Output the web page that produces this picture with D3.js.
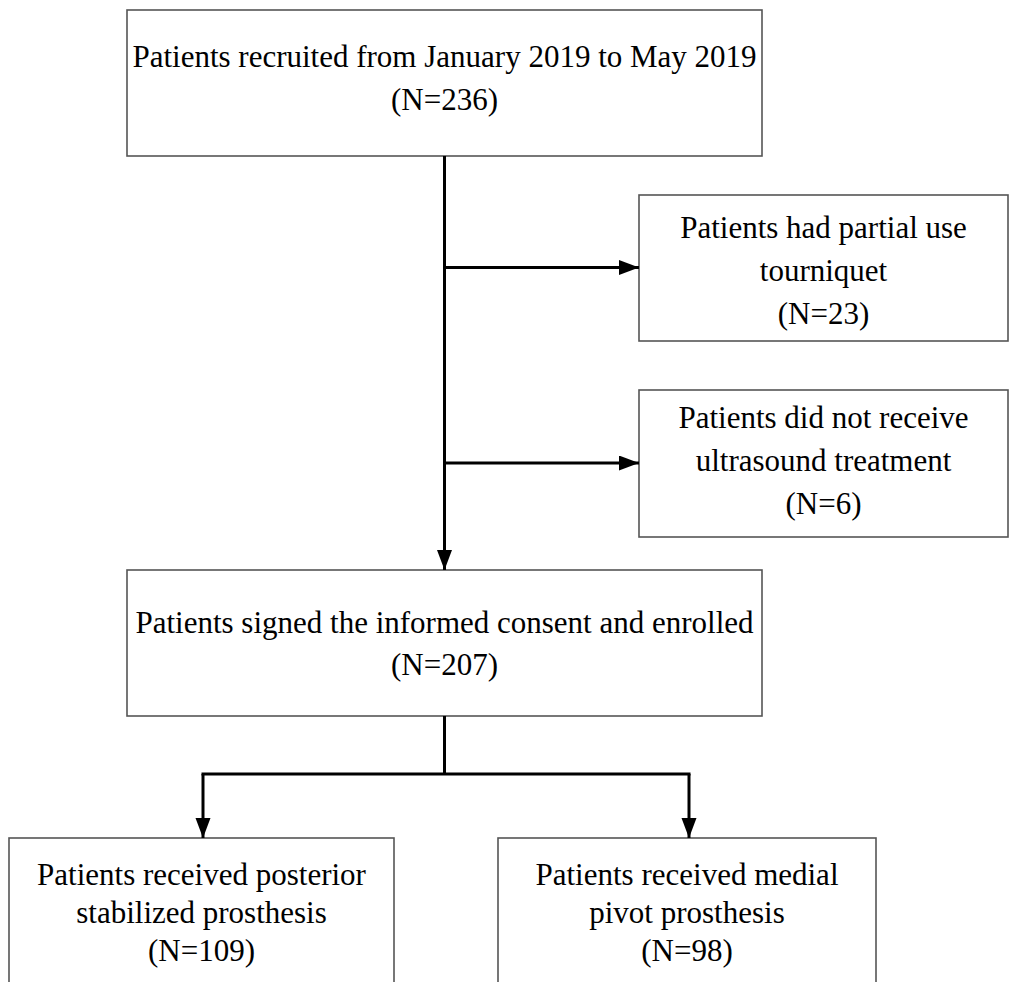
<!DOCTYPE html>
<html>
<head>
<meta charset="utf-8">
<script src="https://cdn.jsdelivr.net/npm/d3@7"></script>
<style>
  body { margin: 0; background: #fff; }
  svg { display: block; }
</style>
</head>
<body>
<svg id="flow" width="1013" height="982"></svg>
<script>
// stage texts and patient counts
var stageLabels = [
	["Patients recruited from January 2019 to May 2019"],
	["Patients had partial use", "tourniquet"],
	["Patients did not receive", "ultrasound treatment"],
	["Patients signed the informed consent and enrolled"],
	["Patients received posterior", "stabilized prosthesis"],
	["Patients received medial", "pivot prosthesis"]
];
var stageCounts = [236, 23, 6, 207, 109, 98];

// layout of the boxes (x0, y0, x1, y1, first baseline)
var layout = [
	{x0: 127, y0: 10,  x1: 762,  y1: 156, base: 67},
	{x0: 639, y0: 195, x1: 1008, y1: 341, base: 238},
	{x0: 639, y0: 390, x1: 1008, y1: 537, base: 428},
	{x0: 127, y0: 570, x1: 762,  y1: 716, base: 633},
	{x0: 9,   y0: 838, x1: 394,  y1: 1000, base: 885},
	{x0: 498, y0: 838, x1: 876,  y1: 1000, base: 885}
];
var lineGap = [43, 43, 43, 42, 38, 38];

var s = d3.select("#flow");

var boxes = stageLabels.map(function(lines, i) {
	var b = layout[i];
	return {
		lines: lines.concat(["(N=" + stageCounts[i] + ")"]),
		x0: b.x0, y0: b.y0, x1: b.x1, y1: b.y1,
		cx: (b.x0 + b.x1) / 2,
		base: b.base, gap: lineGap[i]
	};
});

//arrow head
s.append("defs").append("marker")
	.attr("id", "head")
	.attr("markerUnits", "userSpaceOnUse")
	.attr("markerWidth", 21)
	.attr("markerHeight", 16)
	.attr("refX", 20)
	.attr("refY", 7.5)
	.attr("orient", "auto")
	.append("path")
	.attr("d", "M0,0 L20,7.5 L0,15 Z")
	.attr("fill", "#000");

//BOXES
s.selectAll(".box").data(boxes).enter()
	.append("rect")
	.attr("class", "box")
	.attr("x", function(d) { return d.x0; })
	.attr("y", function(d) { return d.y0; })
	.attr("width", function(d) { return d.x1 - d.x0; })
	.attr("height", function(d) { return d.y1 - d.y0; })
	.attr("fill", "none")
	.attr("stroke", "#555")
	.attr("stroke-width", 1.6);

//TEXT
var labels = s.selectAll(".label").data(boxes).enter()
	.append("text")
	.attr("class", "label")
	.attr("text-anchor", "middle")
	.style("font-family", "'Liberation Serif', 'Times New Roman', Times, serif")
	.style("font-size", "31px")
	.attr("fill", "#000");

labels.selectAll("tspan").data(function(d) {
		return d.lines.map(function(t, j) { return {t: t, x: d.cx, y: d.base + j * d.gap}; });
	}).enter()
	.append("tspan")
	.attr("x", function(d) { return d.x; })
	.attr("y", function(d) { return d.y; })
	.text(function(d) { return d.t; });

//CONNECTORS
var first = boxes[0], mid = boxes[3];
var spineX = first.cx;
var branchY = 774;

function rowMid(b) { return (b.y0 + b.y1) / 2 - 0.5; }

var arrows = [
	// main spine down to the enrolled box
	[[spineX, first.y1], [spineX, mid.y0]],
	// exclusions
	[[spineX, rowMid(boxes[1])], [boxes[1].x0, rowMid(boxes[1])]],
	[[spineX, rowMid(boxes[2])], [boxes[2].x0, rowMid(boxes[2])]],
	// split into two groups
	[[boxes[4].cx + 1.5, branchY], [boxes[4].cx + 1.5, boxes[4].y0]],
	[[boxes[5].cx + 2, branchY], [boxes[5].cx + 2, boxes[5].y0]]
];

var line = d3.line();

s.selectAll(".arrow").data(arrows).enter()
	.append("path")
	.attr("class", "arrow")
	.attr("d", line)
	.attr("fill", "none")
	.attr("stroke", "#000")
	.attr("stroke-width", 3)
	.attr("marker-end", "url(#head)");

// stem and branch line without heads
s.append("path")
	.attr("d", line([[spineX, mid.y1], [spineX, branchY]]))
	.attr("stroke", "#000")
	.attr("stroke-width", 3);
s.append("path")
	.attr("d", line([[boxes[4].cx, branchY], [boxes[5].cx + 3.5, branchY]]))
	.attr("stroke", "#000")
	.attr("stroke-width", 3);
</script>
</body>
</html>
